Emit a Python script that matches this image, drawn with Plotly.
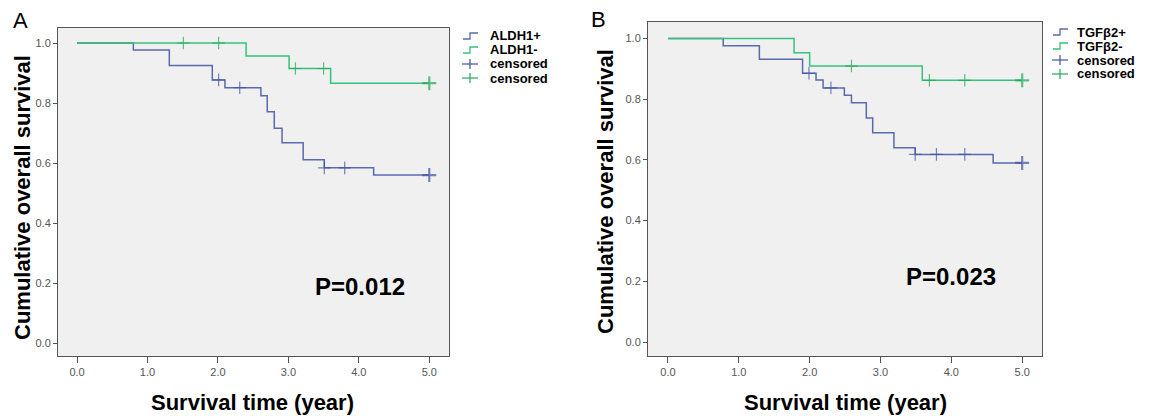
import numpy as np
import plotly.graph_objects as go

# The page body has an 8px margin, so the figure is drawn 8px in from the
# top-left corner; geometry below is given in window pixels and shifted.
OFF = 8
W, H = 1158 - OFF, 416 - OFF
FONT = "Liberation Sans, Arial, Helvetica, sans-serif"

# ---------------- data ----------------
aldh_pos_t = [0.0, 0.80, 1.31, 1.92, 2.10, 2.61, 2.70, 2.80, 2.91, 3.21, 3.51, 4.21, 5.0]
aldh_pos_s = [1.0, 0.977, 0.925, 0.877, 0.851, 0.824, 0.771, 0.716, 0.668, 0.611, 0.584, 0.560, 0.560]
aldh_pos_cens = [2.01, 2.31, 3.51, 3.80, 5.0]

aldh_neg_t = [0.0, 2.40, 3.01, 3.60, 5.0]
aldh_neg_s = [1.0, 0.957, 0.915, 0.866, 0.866]
aldh_neg_cens = [1.51, 2.01, 3.10, 3.50, 5.0]

tgf_pos_t = [0.0, 0.78, 1.29, 1.90, 2.09, 2.19, 2.49, 2.59, 2.80, 2.89, 3.19, 3.49, 4.59, 5.0]
tgf_pos_s = [1.0, 0.976, 0.931, 0.885, 0.863, 0.837, 0.813, 0.788, 0.738, 0.689, 0.640, 0.618, 0.590, 0.590]
tgf_pos_cens = [1.99, 2.30, 3.49, 3.79, 4.19, 5.0]

tgf_neg_t = [0.0, 1.78, 2.00, 3.59, 5.0]
tgf_neg_s = [1.0, 0.953, 0.909, 0.862, 0.862]
tgf_neg_cens = [2.59, 3.69, 4.19, 5.0]

x_ticks = [0, 1, 2, 3, 4, 5]
x_tick_labels = ["0.0", "1.0", "2.0", "3.0", "4.0", "5.0"]
y_ticks = [0, 0.2, 0.4, 0.6, 0.8, 1.0]
y_tick_labels = ["0.0", "0.2", "0.4", "0.6", "0.8", "1.0"]

labels_a = ["ALDH1+", "ALDH1-"]
labels_b = ["TGFβ2+", "TGFβ2-"]
p_a = "P=0.012"
p_b = "P=0.023"

BLUE = "#5a6aae"
GREEN = "#35c27a"
BLUE_C = "#3f51a3"
GREEN_C = "#20a858"


def px(x):
    return (x - OFF) / W


def py(y):
    return 1 - (y - OFF) / H


def surv_at(t, s, c):
    idx = np.searchsorted(np.array(t), np.array(c), side="right") - 1
    return list(np.array(s)[idx])


fig = go.Figure()


def add_group(t, s, cens, color, ccolor, xa, ya):
    fig.add_trace(go.Scatter(x=t, y=s, mode="lines", line=dict(color=color, width=1.5, shape="hv"),
                             xaxis=xa, yaxis=ya, showlegend=False, hoverinfo="skip"))
    cs = surv_at(t, s, cens)
    widths = [2.2 if c >= 5.0 else 1.2 for c in cens]
    sizes = [10 if c >= 5.0 else 9 for c in cens]
    fig.add_trace(go.Scatter(x=cens, y=cs, mode="markers",
                             marker=dict(symbol="cross-thin", size=sizes, color=ccolor,
                                         line=dict(color=ccolor, width=widths)),
                             xaxis=xa, yaxis=ya, showlegend=False, hoverinfo="skip"))


add_group(aldh_pos_t, aldh_pos_s, aldh_pos_cens, BLUE, BLUE_C, "x", "y")
add_group(aldh_neg_t, aldh_neg_s, aldh_neg_cens, GREEN, GREEN_C, "x", "y")
add_group(tgf_pos_t, tgf_pos_s, tgf_pos_cens, BLUE, BLUE_C, "x2", "y2")
add_group(tgf_neg_t, tgf_neg_s, tgf_neg_cens, GREEN, GREEN_C, "x2", "y2")

axis_common = dict(showgrid=False, zeroline=False, showline=True, mirror=True,
                   linecolor="#555555", linewidth=1, ticks="outside", tickcolor="#555555",
                   tickfont=dict(family=FONT, size=11, color="#555555"))

# panel geometry (window pixels)
A = dict(l=58, r=449, t=28, b=356, xr=[-0.27, 5.28], yr=[-0.043, 1.05])
B = dict(l=648, r=1042, t=22, b=356, xr=[-0.282, 5.28], yr=[-0.046, 1.054])

fig.update_layout(
    width=W, height=H, margin=dict(l=0, r=0, t=0, b=0),
    paper_bgcolor="white", plot_bgcolor="#f0f0f0",
    xaxis=dict(domain=[px(A["l"]), px(A["r"])], range=A["xr"], tickvals=x_ticks, ticktext=x_tick_labels,
               ticklen=6, anchor="y", **axis_common),
    yaxis=dict(domain=[py(A["b"]), py(A["t"])], range=A["yr"], tickvals=y_ticks, ticktext=y_tick_labels,
               ticklen=4, anchor="x", **axis_common),
    xaxis2=dict(domain=[px(B["l"]), px(B["r"])], range=B["xr"], tickvals=x_ticks, ticktext=x_tick_labels,
                ticklen=6, anchor="y2", **axis_common),
    yaxis2=dict(domain=[py(B["b"]), py(B["t"])], range=B["yr"], tickvals=y_ticks, ticktext=y_tick_labels,
                ticklen=4, anchor="x2", **axis_common),
)

ann = []
shapes = []


def text(x, y, s, size, bold=True, xanchor="center", angle=0, color="black"):
    ann.append(dict(x=px(x), y=py(y), xref="paper", yref="paper", text=("<b>%s</b>" % s) if bold else s,
                    showarrow=False, xanchor=xanchor, yanchor="middle", textangle=angle,
                    font=dict(family=FONT, size=size, color=color)))


# panel letters
text(20, 20, "A", 22, bold=False)
text(598, 19, "B", 22, bold=False)
# y titles
text(22, 198, "Cumulative overall survival", 22, angle=-90)
text(606, 192, "Cumulative overall survival", 22, angle=-90)
# x titles
text(252, 402, "Survival time (year)", 22)
text(845, 402, "Survival time (year)", 22)
# p-values
text(313, 286, p_a, 24, xanchor="left")
text(904, 276, p_b, 24, xanchor="left")


def legend(x0, tx, rows, labels):
    cols = [BLUE, GREEN]
    ccols = [BLUE_C, GREEN_C]
    for i in range(2):
        y = rows[i]
        path = "M %f,%f L %f,%f L %f,%f L %f,%f" % (px(x0), py(y + 3), px(x0 + 7), py(y + 3),
                                                     px(x0 + 7), py(y - 3), px(x0 + 15), py(y - 3))
        shapes.append(dict(type="path", path=path, xref="paper", yref="paper",
                           line=dict(color=cols[i], width=1.3)))
        text(tx, y, labels[i], 13, xanchor="left")
    for i in range(2):
        y = rows[2 + i]
        shapes.append(dict(type="line", xref="paper", yref="paper", x0=px(x0 - 1), x1=px(x0 + 15),
                           y0=py(y), y1=py(y), line=dict(color=ccols[i], width=1.2)))
        shapes.append(dict(type="line", xref="paper", yref="paper", x0=px(x0 + 7), x1=px(x0 + 7),
                           y0=py(y - 5), y1=py(y + 5), line=dict(color=ccols[i], width=1.2)))
        text(tx, y, "censored", 13, xanchor="left")


legend(463, 488, [36, 50, 64, 78], labels_a)
legend(1053, 1075, [32, 46, 60, 74], labels_b)

fig.update_layout(annotations=ann, shapes=shapes)
fig.write_html("out.html")
